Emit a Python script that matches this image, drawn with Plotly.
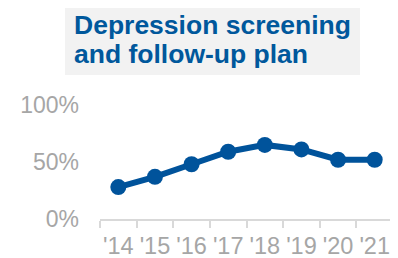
import plotly.graph_objects as go

years = ["'14", "'15", "'16", "'17", "'18", "'19", "'20", "'21"]
values = [28, 37, 48, 59, 65, 61, 52, 52]
y_ticks = [0, 50, 100]
y_labels = ["0%", "50%", "100%"]
title_lines = ["Depression screening", "and follow-up plan"]

blue = "#00539B"
title_blue = "#00589C"
font_family = "Arial, Liberation Sans, sans-serif"

# page body has an 8px margin; the figure is sized so the window shows it all
OFF = 8
FIG_W, FIG_H = 398 - OFF, 258 - OFF
# plot area in page pixels: left 100, width 293, top 105, height 114
L, W, T, H = 100 - OFF, 293, 105 - OFF, 114

def px(xp):
    return (xp - OFF - L) / W

def py(yp):
    return (T + H - (yp - OFF)) / H

fig = go.Figure()
fig.add_trace(go.Scatter(
    x=years, y=values, mode="lines+markers",
    line=dict(color=blue, width=6),
    marker=dict(color=blue, size=16),
    cliponaxis=False, hoverinfo="skip",
))

annotations = []
for i, line in enumerate(title_lines):
    annotations.append(dict(
        text="<b>" + line + "</b>",
        xref="paper", yref="paper",
        x=px(72), y=py(25 + 29 * i), xanchor="left", yanchor="middle",
        align="left", showarrow=False,
        font=dict(family=font_family, size=26.5, color=title_blue),
    ))

fig.update_layout(
    width=FIG_W, height=FIG_H,
    margin=dict(l=L, r=FIG_W - L - W, t=T, b=FIG_H - T - H, autoexpand=False),
    paper_bgcolor="white", plot_bgcolor="white",
    showlegend=False,
    font=dict(family=font_family, color="#a6a6a6", size=23),
    xaxis=dict(
        type="category", range=[-0.5, 7.5],
        showgrid=False, zeroline=False,
        showline=True, linecolor="#d9d9d9", linewidth=1.5,
        ticks="outside", tickson="boundaries", ticklen=7, tickcolor="#d9d9d9", tickwidth=1.5,
        tickangle=0, ticklabelstandoff=5,
        tickfont=dict(size=23.5, color="#a6a6a6"),
    ),
    yaxis=dict(
        range=[0, 100], showgrid=False, zeroline=False, showline=False,
        tickvals=y_ticks, ticktext=y_labels,
        tickfont=dict(size=23, color="#a6a6a6"),
        ticklabelstandoff=20,
    ),
    shapes=[dict(
        type="rect", xref="paper", yref="paper",
        x0=px(65), x1=px(360), y0=py(75), y1=py(5),
        fillcolor="#f2f2f2", line=dict(width=0), layer="below",
    )],
    annotations=annotations,
)

fig.write_html("out.html")
